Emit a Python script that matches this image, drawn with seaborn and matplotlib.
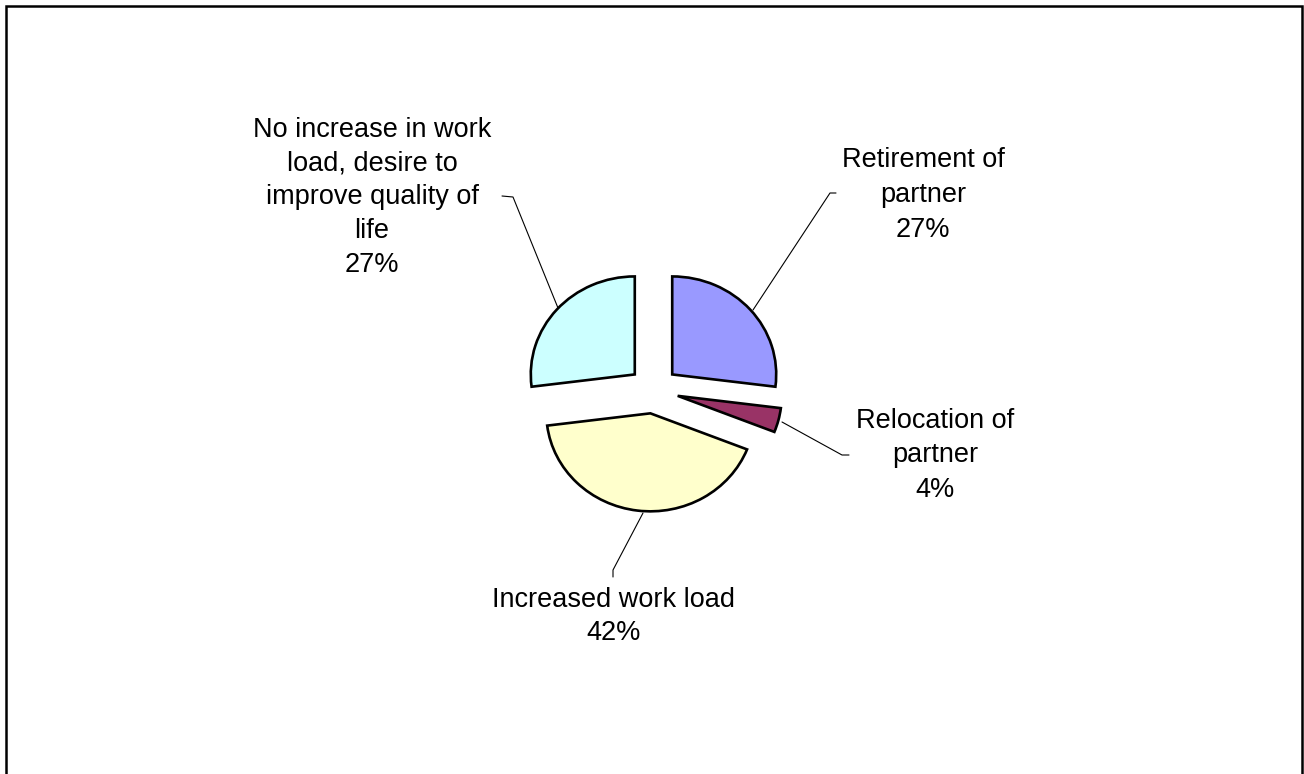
import matplotlib
matplotlib.use("Agg")
import matplotlib.pyplot as plt
from matplotlib.lines import Line2D
from matplotlib.patches import Rectangle
import seaborn as sns

# Survey answers, clockwise from 12 o'clock
categories = [
    "Retirement of\npartner",
    "Relocation of\npartner",
    "Increased work load",
    "No increase in work\nload, desire to\nimprove quality of\nlife",
]
shares = [27, 4, 42, 27]
slice_colors = ["#9999FF", "#993366", "#FFFFCC", "#CCFFFF"]

sns.set_theme(style="white")
plt.rcParams["font.family"] = ["Liberation Sans", "DejaVu Sans"]

W, H = 1304, 774
fig = plt.figure(figsize=(W / 100, H / 100), dpi=100)
fig.patch.set_facecolor("white")

# pie centre and radii in pixels (slightly flattened vertically)
cx, cy, rx, ry = 653.5, 390.0, 104.0, 98.0

ax = fig.add_axes([0, 0, 1, 1])
ax.pie(
    shares,
    colors=slice_colors,
    explode=[0.24] * len(shares),
    startangle=90,
    counterclock=False,
    radius=1.0,
    wedgeprops=dict(edgecolor="black", linewidth=1.9),
)
ax.set_aspect("auto")
ax.set_xlim(-cx / rx, (W - cx) / rx)
ax.set_ylim((cy - H) / ry, cy / ry)
ax.axis("off")


def fx(px):
    return px / W


def fy(py):
    return 1 - py / H


# label blocks: centre x, baseline of first line, spacing
label_layout = [
    (923, 167, 35),
    (935, 428, 34.5),
    (614, 607, 33),
    (372, 137, 33.75),
]
# leader lines in pixel coordinates
leaders = [
    [(753, 310), (830, 193), (836, 193)],
    [(782, 422), (842, 455), (849, 455)],
    [(643, 513), (613, 570), (613, 577)],
    [(558, 308), (513, 197), (502, 196)],
]

for name, share, (lx, ly, dy), pts in zip(categories, shares, label_layout, leaders):
    lines = name.split("\n") + [f"{share}%"]
    for i, line in enumerate(lines):
        fig.text(fx(lx), fy(ly + i * dy), line, ha="center", va="baseline",
                 fontsize=19.5, color="black")
    fig.add_artist(Line2D([fx(p[0]) for p in pts], [fy(p[1]) for p in pts],
                          color="black", linewidth=0.8))

# outer chart frame (open at the bottom edge)
fig.add_artist(Rectangle((fx(5.5), fy(790)), fx(1302 - 5.5), (790 - 6) / H,
                         fill=False, edgecolor="black", linewidth=1.8,
                         transform=fig.transFigure))

fig.savefig("out.png", dpi=100, facecolor="white")
